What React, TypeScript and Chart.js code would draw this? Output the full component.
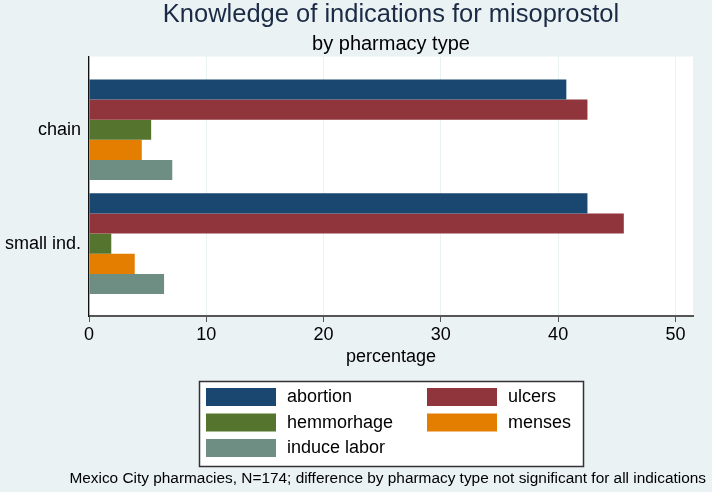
import { useEffect, useRef } from "react";
import { Chart, registerables } from "chart.js";

Chart.register(...registerables);

const categories = ["chain", "small ind."];
const seriesNames = ["abortion", "ulcers", "hemmorhage", "menses", "induce labor"];
const abortion = [40.7, 42.5];
const ulcers = [42.5, 45.6];
const hemmorhage = [5.3, 1.9];
const menses = [4.5, 3.9];
const induceLabor = [7.1, 6.4];
const seriesValues = [abortion, ulcers, hemmorhage, menses, induceLabor];
const seriesColors = ["#1a476f", "#90353b", "#55752f", "#e37e00", "#6e8e84"];
const xTicks = [0, 10, 20, 30, 40, 50];

const titleText = "Knowledge of indications for misoprostol";
const subtitleText = "by pharmacy type";
const xTitleText = "percentage";
const noteText =
  "Mexico City pharmacies, N=174; difference by pharmacy type not significant for all indications";

const FONT = "'Liberation Sans', Arial, Helvetica, sans-serif";
const BG = "#eaf2f3";

const backgroundPlugin = {
  id: "stataBackground",
  afterLayout(chart: any) {
    const { chartArea } = chart;
    (chart.boxes || []).forEach((box: any) => {
      const t = box && box.options && box.options.text;
      if (t === titleText || t === subtitleText) {
        box.left = chartArea.left;
        box.right = chartArea.right;
      }
    });
  },
  beforeDraw(chart: any) {
    const { ctx, chartArea, width, height } = chart;
    ctx.save();
    ctx.fillStyle = BG;
    ctx.fillRect(0, 0, width, height);
    ctx.fillStyle = "#ffffff";
    ctx.fillRect(
      chartArea.left,
      chartArea.top,
      chartArea.right - chartArea.left,
      chartArea.bottom - chartArea.top
    );
    ctx.restore();
  },
};

const legendNotePlugin = {
  id: "stataLegendNote",
  afterDraw(chart: any) {
    const { ctx } = chart;
    const datasets = chart.data.datasets;
    ctx.save();
    const boxL = 199.5;
    const boxT = 381.5;
    const boxW = 384;
    const boxH = 85;
    ctx.fillStyle = "#ffffff";
    ctx.fillRect(boxL, boxT, boxW, boxH);
    ctx.strokeStyle = "#333333";
    ctx.lineWidth = 1.5;
    ctx.strokeRect(boxL, boxT, boxW, boxH);

    const colSwatchX = [206, 427];
    const colTextX = [287, 508];
    const rowTop = [388, 413.5, 439];
    const swW = 70;
    const swH = 18;
    ctx.font = `18px ${FONT}`;
    ctx.textAlign = "left";
    ctx.textBaseline = "middle";
    datasets.forEach((ds: any, i: number) => {
      const col = i % 2;
      const row = Math.floor(i / 2);
      const y = rowTop[row];
      ctx.fillStyle = ds.backgroundColor;
      ctx.fillRect(colSwatchX[col], y, swW, swH);
      ctx.fillStyle = "#000000";
      ctx.fillText(ds.label, colTextX[col], y + swH / 2 + 0.5);
    });

    ctx.font = `15.4px ${FONT}`;
    ctx.textAlign = "right";
    ctx.textBaseline = "middle";
    ctx.fillStyle = "#000000";
    ctx.fillText(noteText, 706, 479);
    ctx.restore();
  },
};

export default function App() {
  const canvasRef = useRef<HTMLCanvasElement | null>(null);

  useEffect(() => {
    document.body.style.margin = "0";
    const canvas = canvasRef.current;
    if (!canvas) return;
    Chart.defaults.font.family = FONT;

    const chart = new Chart(canvas, {
      type: "bar",
      data: {
        datasets: seriesNames.map((name, s) => ({
          label: name,
          data: categories.map((_, i) => ({ x: seriesValues[s][i], y: i })),
          backgroundColor: seriesColors[s],
          borderWidth: 0,
          categoryPercentage: 0.884,
          barPercentage: 1,
        })),
      },
      options: {
        indexAxis: "y",
        animation: false,
        responsive: true,
        maintainAspectRatio: false,
        layout: { padding: { left: 0, right: 19, top: 0, bottom: 126 } },
        plugins: {
          legend: { display: false },
          tooltip: { enabled: false },
          title: {
            display: true,
            text: titleText,
            color: "#1c2b45",
            font: { size: 25.5, weight: "normal", lineHeight: 1.1 },
            padding: { top: 1, bottom: 0 },
          },
          subtitle: {
            display: true,
            text: subtitleText,
            color: "#000000",
            font: { size: 20, weight: "normal", lineHeight: 1.2 },
            padding: { top: 3.5, bottom: 0 },
          },
        },
        scales: {
          x: {
            type: "linear",
            position: "bottom",
            min: 0,
            max: 51.5,
            afterBuildTicks: (scale: any) => {
              scale.ticks = xTicks.map((v) => ({ value: v }));
            },
            ticks: {
              color: "#000000",
              font: { size: 18, lineHeight: 1 },
              padding: 4,
              includeBounds: false,
            },
            grid: {
              color: BG,
              lineWidth: 1,
              tickColor: "#555555",
              tickLength: 6,
              drawTicks: true,
            },
            border: { display: true, color: "#555555", width: 2 },
            title: {
              display: true,
              text: xTitleText,
              color: "#000000",
              font: { size: 18, lineHeight: 1 },
              padding: 0,
            },
          },
          y: {
            type: "linear",
            position: "left",
            min: -0.643,
            max: 1.635,
            reverse: true,
            offset: false,
            z: 1,
            afterBuildTicks: (scale: any) => {
              scale.ticks = categories.map((_, i) => ({ value: i }));
            },
            afterFit: (scale: any) => {
              scale.width = 89;
            },
            ticks: {
              color: "#000000",
              font: { size: 18 },
              padding: 8,
              includeBounds: false,
              callback: (v: any) => categories[v as number] ?? "",
            },
            grid: { display: false, drawTicks: false, offset: false },
            border: { display: true, color: "#111111", width: 1.3 },
          },
        },
      } as any,
      plugins: [backgroundPlugin, legendNotePlugin],
    });

    return () => {
      chart.destroy();
    };
  }, []);

  return (
    <div style={{ position: "relative", width: 712, height: 492 }}>
      <canvas ref={canvasRef} />
    </div>
  );
}
